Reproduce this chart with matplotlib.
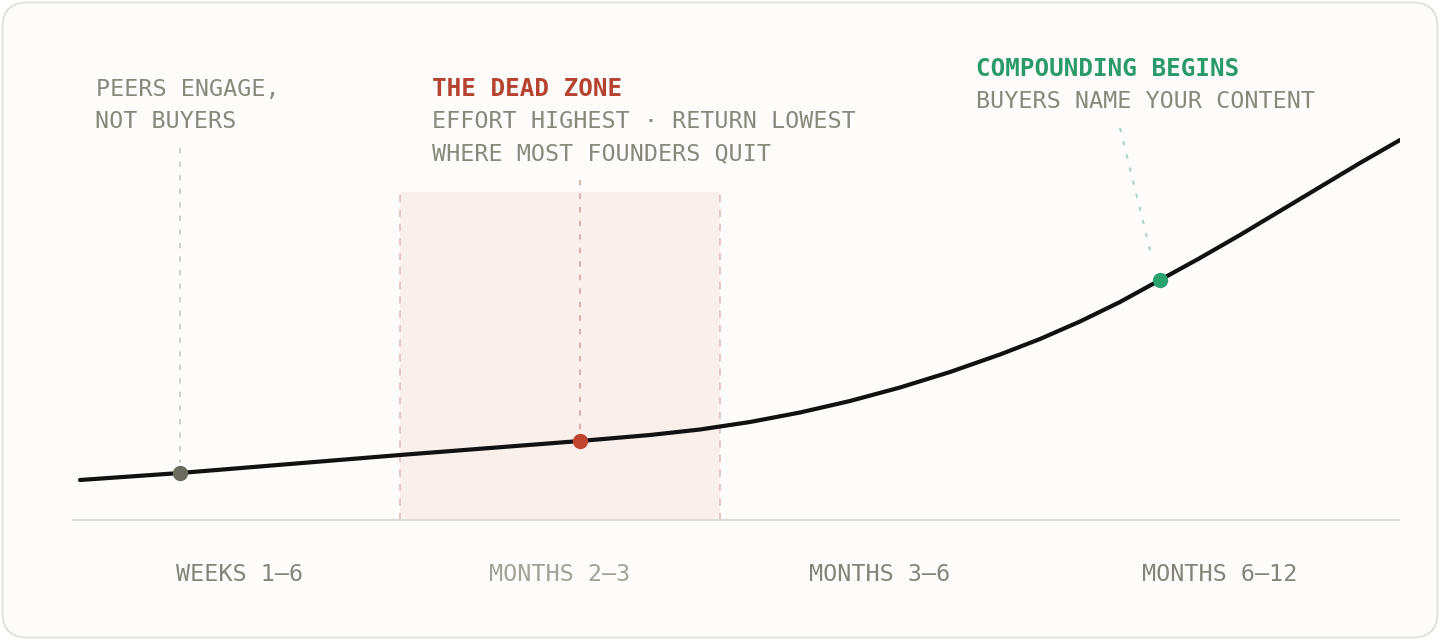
import matplotlib.pyplot as plt
from matplotlib.patches import FancyBboxPatch

# phase units: each phase column = 1.0 wide, y = relative return
curve_x = [0, 0.3125, 0.65625, 1.0, 1.28125, 1.5625, 1.78125, 1.9375, 2.09375, 2.25,
           2.40625, 2.5625, 2.71875, 2.875, 3.0, 3.125, 3.25, 3.375, 3.5, 3.625,
           3.75, 3.875, 4.0, 4.125]
curve_y = [40, 47, 56, 65, 72, 79, 85, 90.5, 98, 107.5, 119, 132.5, 148, 165.5, 181,
           198.5, 218, 240, 262, 285, 309, 333, 357, 380]

phase_labels = ["WEEKS 1–6", "MONTHS 2–3", "MONTHS 3–6", "MONTHS 6–12"]
phase_pos = [0.5, 1.5, 2.5, 3.5625]
phase_colors = ["#85837a", "#a3a198", "#85837a", "#85837a"]

dead_zone = [1.0, 2.0]
dead_zone_top = 328

# marker points
peers_pt = (0.3125, 47)
dead_pt = (1.5625, 79)
comp_pt = (3.375, 240)

mono = "DejaVu Sans Mono"
txt_gray = "#8a887d"
red = "#b5432f"
green = "#2a9a6b"

fig = plt.figure(figsize=(14.4, 6.4), dpi=100)
fig.patch.set_facecolor("white")
card = FancyBboxPatch((2.5 / 1440, 2.5 / 640), 1435 / 1440, 635 / 640,
                      boxstyle="round,pad=0,rounding_size=0.017",
                      transform=fig.transFigure, facecolor="#fdfcfa",
                      edgecolor="#e4e2de", linewidth=1.5, mutation_aspect=1440 / 640,
                      zorder=-5)
fig.patches.append(card)

ax = fig.add_axes([72 / 1440, 0, (1400 - 72) / 1440, 1])
ax.set_zorder(1)
ax.set_xlim(-0.025, 4.125)
ax.set_ylim(-120, 520)
ax.axis("off")
ax.patch.set_alpha(0)

# dead zone band
ax.fill_between(dead_zone, 0, dead_zone_top, color="#f9efeb", zorder=1, lw=0)
for xv in dead_zone:
    ax.plot([xv, xv], [0, dead_zone_top], color="#e6c3bf", lw=1.3,
            ls=(0, (4, 4)), zorder=2)

# baseline
ax.plot([-0.025, 4.125], [0, 0], color="#dedbd6", lw=1.5, zorder=2)

# leaders
ax.plot([peers_pt[0]] * 2, [372, peers_pt[1] + 10], color="#cfcdc7", lw=1.3,
        ls=(0, (3, 4.5)), zorder=2)
ax.plot([dead_pt[0]] * 2, [340, dead_pt[1] + 10], color="#dcaaa5", lw=1.3,
        ls=(0, (3, 4.5)), zorder=2)
ax.plot([3.25, 3.35], [392, 262], color="#a8d5c4", lw=1.5,
        ls=(0, (2, 4.5)), zorder=2)

# curve
ax.plot(curve_x, curve_y, color="#111111", lw=3, solid_capstyle="round",
        solid_joinstyle="round", zorder=3)

ax.plot(*peers_pt, "o", color="#6b6a5f", ms=10, zorder=4)
ax.plot(*dead_pt, "o", color="#c0452f", ms=10, zorder=4)
ax.plot(*comp_pt, "o", color="#2ba170", ms=10, zorder=4)

# annotations
fs = 16.8
tfs = 17.5
ax.text(0.05, 424, "PEERS ENGAGE,", family=mono, fontsize=fs, color=txt_gray, va="baseline")
ax.text(0.047, 392, "NOT BUYERS", family=mono, fontsize=fs, color=txt_gray, va="baseline")

ax.text(1.1, 424, "THE DEAD ZONE", family=mono, fontsize=tfs, fontweight="bold",
        color=red, va="baseline")
ax.text(1.1, 392, "EFFORT HIGHEST · RETURN LOWEST", family=mono, fontsize=fs,
        color=txt_gray, va="baseline")
ax.text(1.1, 360, "WHERE MOST FOUNDERS QUIT", family=mono, fontsize=fs,
        color=txt_gray, va="baseline")

ax.text(2.8, 444, "COMPOUNDING BEGINS", family=mono, fontsize=tfs, fontweight="bold",
        color=green, va="baseline")
ax.text(2.8, 412, "BUYERS NAME YOUR CONTENT", family=mono, fontsize=fs,
        color=txt_gray, va="baseline")

for lab, xp, c in zip(phase_labels, phase_pos, phase_colors):
    ax.text(xp, -61, lab, family=mono, fontsize=fs, color=c, ha="center", va="baseline")

fig.savefig("out.png", dpi=100, facecolor=fig.get_facecolor())
